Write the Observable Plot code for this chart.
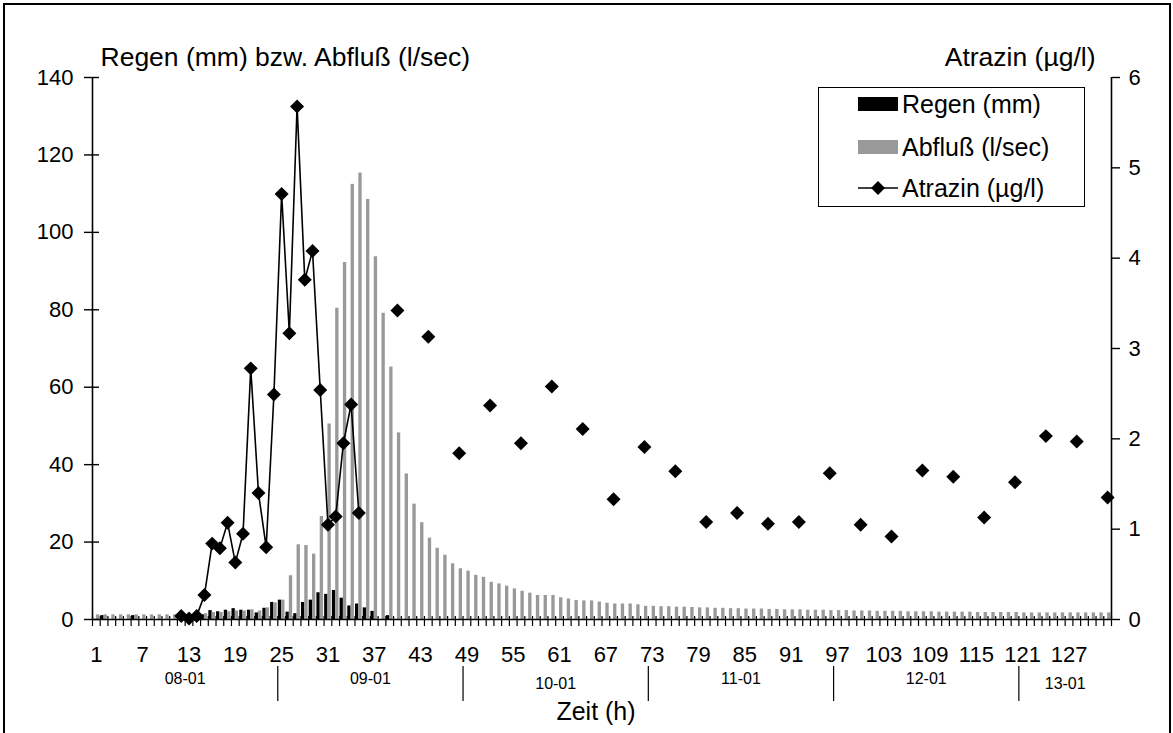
<!DOCTYPE html>
<html>
<head>
<meta charset="utf-8">
<script src="https://cdn.jsdelivr.net/npm/d3@7"></script>
<script src="https://cdn.jsdelivr.net/npm/@observablehq/plot@0.6"></script>
<style>
  body { margin: 0; background: #fff; font-family: "Liberation Sans", Arial, sans-serif; }
  #wrap { position: relative; width: 1173px; height: 733px; overflow: hidden; }
  #page-border { position: absolute; left: 3px; top: 3px; width: 1164px; height: 780px; border: 2px solid #000; pointer-events: none; }
  #legend { position: absolute; left: 818px; top: 87px; width: 265px; height: 118px; border: 1px solid #000; background: #fff; }
  .row { position: absolute; left: 0; height: 30px; display: flex; align-items: center; font-size: 25px; color: #000; white-space: nowrap; }
  .sw { width: 40px; height: 14px; margin-left: 39px; margin-right: 4px; flex: none; }
</style>
</head>
<body>
<div id="wrap">
  <div id="chart"></div>
  <div id="legend">
    <div class="row" style="top:1px"><div class="sw" style="background:#000"></div>Regen (mm)</div>
    <div class="row" style="top:44px"><div class="sw" style="background:#999"></div>Abfluß (l/sec)</div>
    <div class="row" style="top:85px">
      <svg class="sw" style="height:16px" viewBox="0 0 40 16"><line x1="0" y1="8" x2="40" y2="8" stroke="#000" stroke-width="1.5"/><path d="M20,1 L27,8 L20,15 L13,8 Z" fill="#000"/></svg>Atrazin (µg/l)
    </div>
  </div>
  <div id="page-border"></div>
</div>
<script>
// Hourly categories 1..132
const hours = d3.range(1, 133);

// Rain per hour (mm)
const regen = [
  0, 1.0, 0, 0, 0, 1.0, 0, 0, 0, 0,
  0, 0, 0.5, 0.8, 1.2, 2.3, 2.0, 2.4, 2.8, 2.4,
  2.4, 1.7, 2.9, 4.4, 5.0, 1.9, 1.5, 4.4, 5.0, 6.9,
  6.5, 7.5, 5.5, 3.5, 4.0, 3.0, 2.1, 0, 1.0, 0,
  0, 0, 0, 0, 0, 0, 0, 0, 0, 0,
  0, 0, 0, 0, 0, 0, 0, 0, 0, 0,
  0, 0, 0, 0, 0, 0, 0, 0, 0, 0,
  0, 0, 0, 0, 0, 0, 0, 0, 0, 0,
  0, 0, 0, 0, 0, 0, 0, 0, 0, 0,
  0, 0, 0, 0, 0, 0, 0, 0, 0, 0,
  0, 0, 0, 0, 0, 0, 0, 0, 0, 0,
  0, 0, 0, 0, 0, 0, 0, 0, 0, 0,
  0, 0, 0, 0, 0, 0, 0, 0, 0, 0,
  0, 0
];

// Runoff per hour (l/sec)
const abfluss = [
  1.2, 1.2, 1.2, 1.2, 1.2, 1.2, 1.2, 1.2, 1.2, 1.2,
  1.2, 1.2, 1.2, 1.2, 1.5, 1.8, 1.8, 2.0, 2.2, 2.2,
  2.5, 2.2, 3.0, 4.3, 5.0, 11.3, 19.3, 19.1, 16.9, 26.6,
  50.5, 80.4, 92.2, 112.4, 115.3, 108.5, 93.7, 79.1, 65.2, 48.2,
  37.6, 29.8, 25.0, 21.0, 18.4, 16.6, 14.4, 13.1, 12.5, 11.4,
  10.9, 9.6, 9.2, 8.6, 7.9, 7.3, 6.8, 6.2, 6.2, 6.2,
  5.6, 5.3, 4.9, 4.8, 4.8, 4.5, 4.2, 4.0, 4.0, 4.0,
  3.8, 3.4, 3.4, 3.3, 3.3, 3.2, 3.2, 3.1, 3.0, 3.0,
  2.9, 2.9, 2.8, 2.8, 2.7, 2.7, 2.7, 2.6, 2.6, 2.5,
  2.5, 2.5, 2.4, 2.4, 2.4, 2.3, 2.3, 2.3, 2.2, 2.2,
  2.2, 2.1, 2.1, 2.1, 2.1, 2.0, 2.0, 2.0, 2.0, 1.9,
  1.9, 1.9, 1.9, 1.9, 1.8, 1.8, 1.8, 1.8, 1.8, 1.8,
  1.7, 1.7, 1.7, 1.7, 1.7, 1.7, 1.7, 1.7, 1.7, 1.7,
  1.7, 1.7
];

// Atrazine samples (µg/l) with the hour they were taken
const atrazinHours = [
  12, 13, 14, 15, 16, 17, 18, 19, 20, 21, 22, 23, 24, 25, 26, 27, 28, 29, 30, 31, 32, 33, 34, 35,
  40, 44, 48, 52, 56, 60, 64, 68, 72, 76, 80, 84, 88, 92, 96, 100, 104, 108, 112, 116, 120, 124, 128, 132
];
const atrazinValues = [
  0.04, 0.01, 0.04, 0.27, 0.84, 0.79, 1.07, 0.63, 0.95, 2.78, 1.40, 0.80, 2.49, 4.71, 3.17, 5.68, 3.76, 4.08, 2.54, 1.05, 1.14, 1.95, 2.38, 1.18,
  3.42, 3.13, 1.84, 2.37, 1.95, 2.58, 2.11, 1.33, 1.91, 1.64, 1.08, 1.18, 1.06, 1.08, 1.62, 1.05, 0.92, 1.65, 1.58, 1.13, 1.52, 2.03, 1.97, 1.35
];

// Axis ticks and day labels
const leftTicks = [0, 20, 40, 60, 80, 100, 120, 140];
const rightTicks = [0, 1, 2, 3, 4, 5, 6];
const hourLabels = [1, 7, 13, 19, 25, 31, 37, 43, 49, 55, 61, 67, 73, 79, 85, 91, 97, 103, 109, 115, 121, 127];
const days = ["08-01", "09-01", "10-01", "11-01", "12-01", "13-01"];
const dayFirstHour = [1, 25, 49, 73, 97, 121];
const dayLastHour = [24, 48, 72, 96, 120, 132];
const dayLowered = [false, false, true, false, false, true];

// Both axes share one y scale: Atrazin values are carried on the left scale
const yMax = 140, rMax = 6, k = yMax / rMax;

const rows = hours.map((h, i) => ({hour: h, regen: regen[i], abfluss: abfluss[i]}));
const atrazinByHour = new Map(atrazinHours.map((h, i) => [h, atrazinValues[i]]));
const atrazinSeries = hours.map(h => ({hour: h, value: atrazinByHour.has(h) ? atrazinByHour.get(h) : NaN}));
const atrazinPoints = atrazinHours.map((h, i) => ({hour: h, value: atrazinValues[i]}));
const dayRows = days.map((d, i) => ({label: d, mid: (dayFirstHour[i] + dayLastHour[i]) / 2, low: dayLowered[i]}));
const boundaries = d3.range(0, hours.length + 1).map(i => i + 0.5);
const daySeparators = dayFirstHour.slice(1).map(h => h - 0.5);

const half = 0.43; // width of one bar in a cluster, in hour units

const chart = Plot.plot({
  width: 1173,
  height: 733,
  marginLeft: 92,
  marginRight: 62,
  marginTop: 77,
  marginBottom: 114,
  style: {fontFamily: "'Liberation Sans', Arial, sans-serif", fontSize: "22px", color: "#000", background: "#fff"},
  x: {type: "linear", domain: [0.5, hours.length + 0.5]},
  y: {domain: [0, yMax]},
  marks: [
    // bars: rain on the left, runoff on the right of each hour
    Plot.rectY(rows, {x1: d => d.hour - half, x2: d => d.hour, y: "regen", fill: "#000"}),
    Plot.rectY(rows, {x1: d => d.hour, x2: d => d.hour + half, y: "abfluss", fill: "#999999"}),

    // axis lines
    Plot.ruleX([0.5, hours.length + 0.5], {stroke: "#000", strokeWidth: 1.6}),
    Plot.ruleY([0], {stroke: "#000", strokeWidth: 1.6}),

    // left axis: crossing ticks and labels
    Plot.axisY(leftTicks, {anchor: "left", tickSize: 15, dx: 7, tickFormat: () => "", strokeWidth: 1.4, label: null}),
    Plot.axisY(leftTicks, {anchor: "left", tickSize: 0, tickPadding: 19, fontSize: 22, label: null}),

    // right axis (Atrazin)
    Plot.axisY(rightTicks.map(t => t * k), {anchor: "right", tickSize: 8, tickFormat: () => "", strokeWidth: 1.4, label: null}),
    Plot.axisY(rightTicks.map(t => t * k), {anchor: "right", tickSize: 0, tickPadding: 17,
      tickFormat: d => String(Math.round(d / k)), fontSize: 22, label: null}),

    // x axis: crossing ticks between hours, hour labels, day separators
    Plot.axisX(boundaries, {anchor: "bottom", tickSize: 10, dy: -3, tickFormat: () => "", strokeWidth: 1.2, label: null}),
    Plot.axisX(hourLabels, {anchor: "bottom", tickSize: 0, tickPadding: 27, fontSize: 22, label: null}),
    Plot.axisX(daySeparators, {anchor: "bottom", tickSize: 35, dy: 47, tickFormat: () => "", strokeWidth: 1.2, label: null}),
    Plot.text(dayRows.filter(d => !d.low), {x: "mid", text: "label", frameAnchor: "bottom", dy: 59, fontSize: 16, lineAnchor: "middle"}),
    Plot.text(dayRows.filter(d => d.low), {x: "mid", text: "label", frameAnchor: "bottom", dy: 64, fontSize: 16, lineAnchor: "middle"}),

    // Atrazin line and markers
    Plot.line(atrazinSeries, {x: "hour", y: d => d.value * k, stroke: "#000", strokeWidth: 1.6}),
    Plot.dot(atrazinPoints, {x: "hour", y: d => d.value * k, symbol: "diamond2", r: 6.3, fill: "#000", stroke: "none"}),

    // axis titles
    Plot.text(["Regen (mm) bzw. Abfluß (l/sec)"], {frameAnchor: "top-left", dx: 8, dy: -20, lineAnchor: "middle", textAnchor: "start", fontSize: 26.5}),
    Plot.text(["Atrazin (µg/l)"], {frameAnchor: "top-right", dx: -16, dy: -20, lineAnchor: "middle", textAnchor: "end", fontSize: 26.5}),
    Plot.text(["Zeit (h)"], {frameAnchor: "bottom", dx: -6, dy: 92, lineAnchor: "middle", fontSize: 25})
  ]
});

document.getElementById("chart").appendChild(chart);
</script>
</body>
</html>
